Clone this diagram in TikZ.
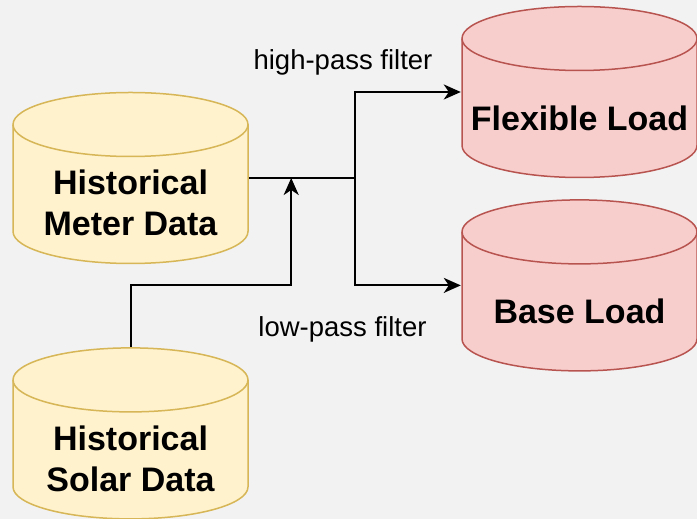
\documentclass[tikz,border=0pt]{standalone}
\usepackage{fontspec}
\setmainfont{Liberation Sans}
\usetikzlibrary{arrows.meta,positioning}
\definecolor{pagebg}{HTML}{F2F2F2}
\definecolor{yellowfill}{HTML}{FFF2CC}
\definecolor{yellowline}{HTML}{D6B656}
\definecolor{redfill}{HTML}{F8CECC}
\definecolor{redline}{HTML}{B85450}
\tikzset{
  drum/.style={
    minimum width=237pt,
    minimum height=173pt,
    inner sep=0pt,
    path picture={
      \fill[#1fill, draw=#1line, line width=1.5pt]
        ([shift={(1pt,-33pt)}]path picture bounding box.north west)
        -- ([shift={(1pt,33pt)}]path picture bounding box.south west)
        arc[start angle=180, end angle=360, x radius=117.5pt, y radius=32pt]
        -- ([shift={(-1pt,-33pt)}]path picture bounding box.north east)
        arc[start angle=0, end angle=180, x radius=117.5pt, y radius=32pt]
        -- cycle;
      \draw[#1line, line width=1.5pt]
        ([shift={(1pt,-33pt)}]path picture bounding box.north west)
        arc[start angle=180, end angle=360, x radius=117.5pt, y radius=32pt];
    }
  },
  drumtext/.style={
    align=center,
    inner sep=0pt,
    font=\fontsize{34}{41}\selectfont\bfseries
  },
  filter/.style={
    inner sep=0pt,
    anchor=base,
    font=\fontsize{27.5}{33}\selectfont
  },
  wire/.style={line width=2pt},
  link/.style={line width=2pt, -{Stealth[length=17pt, width=15pt, inset=5pt]}}
}

\begin{document}
\begin{tikzpicture}[x=1pt, y=1pt]

\fill[pagebg] (0,0) rectangle (697,519);
\useasboundingbox (0,0) rectangle (697,519);

% Data sources
\node[drum=yellow] (meter) at (130.5,341) {};
\node[drum=yellow, below=82pt of meter] (solar) {};

% Decomposed loads
\node[drum=red] (flex) at (579.5,427) {};
\node[drum=red, below=20pt of flex] (base) {};

\node[drumtext] (metertxt) at ([yshift=-25pt]meter.center) {Historical\\Meter Data};
\node[drumtext] (solartxt) at ([yshift=-25pt]solar.center) {Historical\\Solar Data};
\node[drumtext] (flextxt) at ([yshift=-26pt]flex.center) {Flexible Load};
\node[drumtext] (basetxt) at ([yshift=-26pt]base.center) {Base Load};

\coordinate[right=106pt of meter.east] (split);
\coordinate[right=42pt of meter.east] (merge);

\draw[wire] (meter.east) -- (split);
\draw[link] (split) |- (flex.west);
\draw[link] (split) |- (base.west);
\draw[link] (solar.north) -- ++(0,62) -| (merge);

\node[filter] (highpass) at (343,449) {high-pass filter};
\node[filter] (lowpass) at (342.5,182) {low-pass filter};

\end{tikzpicture}
\end{document}
